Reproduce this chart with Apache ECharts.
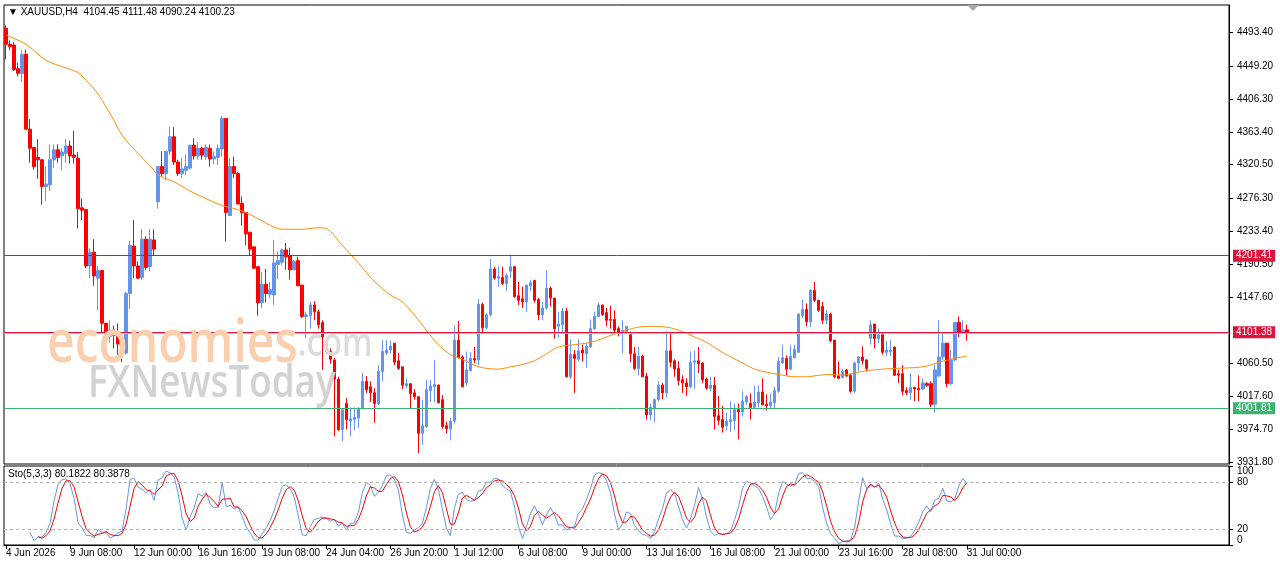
<!DOCTYPE html>
<html>
<head>
<meta charset="utf-8">
<script src="https://cdn.jsdelivr.net/npm/echarts@6/dist/echarts.min.js"></script>
<style>
  html, body { margin: 0; padding: 0; background: #fff; }
  #chart { width: 1280px; height: 567px; }
</style>
</head>
<body>
<div id="chart"></div>
<script>
// ---------- DATA (XAUUSD H4) ----------
const open = [
4499,4478,4477,4446,4440,4465,4367,4343,4330,4327,4292,4294,4327,4340,4332,4335,4345,4333,4329,4264,
4262,4188,4206,4172,4182,4113,4096,4104,4097,4089,4074,4152,4214,4188,4173,4223,4187,4222,4272,4318,
4309,4338,4357,4324,4309,4313,4316,4346,4332,4342,4331,4342,4328,4330,4341,4381,4254,4318,4309,4270,
4258,4232,4213,4187,4140,4164,4151,4150,4190,4193,4209,4201,4183,4195,4163,4122,4123,4137,4128,4114,
4090,4076,4065,4040,3974,4008,3985,3987,3989,4002,4037,4030,4022,4008,4050,4074,4078,4087,4064,4056,
4031,4034,4022,4017,3969,3978,4025,4030,4032,4013,3979,3975,3985,4091,4069,4035,4051,4067,4065,4138,
4107,4124,4184,4172,4173,4165,4181,4187,4149,4145,4141,4162,4169,4144,4124,4133,4159,4146,4109,4111,
4129,4043,4072,4066,4078,4073,4082,4106,4122,4137,4127,4118,4118,4106,4102,4102,4098,4073,4054,4070,
4044,3993,4002,4013,4032,4022,4077,4064,4054,4039,4035,4030,4062,4064,4061,4040,4028,4032,3992,3987,
3979,3984,3986,4000,3997,4010,4008,4003,4009,4023,4007,4005,4009,4024,4061,4067,4053,4068,4075,4123,
4131,4115,4156,4143,4135,4117,4125,4091,4044,4042,4052,4045,4024,4061,4069,4065,4093,4112,4093,4098,
4075,4076,4082,4047,4047,4025,4022,4029,4028,4027,4034,4034,4007,4044,4069,4087,4034,4065,4114,4102,
4104.45];
const high = [
4503,4483,4481,4454,4470,4471,4380,4343,4354,4327,4318,4347,4347,4347,4342,4354,4352,4365,4337,4276,
4262,4211,4223,4188,4182,4113,4117,4110,4113,4090,4154,4221,4248,4194,4236,4227,4236,4236,4318,4338,
4338,4370,4370,4327,4329,4334,4346,4355,4350,4344,4347,4347,4338,4347,4384,4381,4329,4331,4311,4279,
4258,4233,4213,4188,4180,4184,4167,4222,4207,4211,4218,4212,4196,4200,4163,4128,4141,4142,4131,4117,
4095,4080,4068,4043,4002,4015,4003,4003,4003,4048,4044,4037,4028,4058,4091,4091,4090,4087,4074,4056,
4041,4034,4027,4017,4013,4039,4039,4065,4033,4019,3984,3989,4110,4116,4071,4076,4075,4082,4145,4140,
4126,4197,4187,4188,4187,4178,4203,4188,4167,4161,4163,4170,4170,4146,4141,4182,4161,4146,4128,4133,
4133,4092,4078,4092,4085,4087,4118,4128,4140,4137,4133,4136,4130,4109,4117,4109,4102,4082,4082,4072,
4048,4008,4015,4037,4035,4102,4102,4066,4063,4045,4041,4076,4077,4082,4062,4042,4043,4043,4018,4005,
3996,4011,4008,4008,4024,4019,4021,4031,4032,4041,4020,4021,4030,4069,4085,4071,4085,4085,4126,4144,
4139,4158,4167,4144,4141,4130,4127,4091,4063,4053,4053,4047,4063,4070,4083,4066,4117,4112,4106,4100,
4090,4091,4082,4052,4058,4029,4048,4030,4045,4041,4036,4037,4059,4117,4102,4087,4078,4114,4122,4117,
4111.48];
const low = [
4458,4470,4443,4436,4429,4366,4323,4314,4302,4268,4273,4286,4316,4323,4313,4323,4322,4322,4237,4248,
4185,4172,4162,4130,4101,4085,4088,4080,4066,4062,4072,4132,4172,4171,4170,4183,4181,4201,4263,4305,
4300,4333,4320,4306,4303,4307,4314,4327,4327,4327,4327,4318,4321,4320,4331,4220,4254,4303,4269,4241,
4215,4202,4184,4123,4133,4140,4146,4137,4171,4189,4183,4170,4183,4162,4120,4094,4106,4117,4106,4052,
4073,4060,3965,3972,3959,3974,3965,3973,3976,4000,4022,4010,3983,4006,4037,4072,4074,4058,4052,4027,
4028,4002,4013,3943,3954,3976,4010,4010,4008,3975,3969,3960,3982,4067,4029,4031,4050,4061,4058,4101,
4105,4122,4170,4161,4163,4155,4172,4146,4137,4133,4128,4155,4140,4117,4117,4131,4135,4093,4094,4100,
4042,4040,4022,4063,4063,4055,4081,4104,4121,4123,4109,4106,4099,4096,4074,4100,4062,4052,4045,4043,
3987,3986,3984,4011,4014,4016,4056,4043,4032,4022,4018,4028,4027,4048,4035,4026,4024,3974,3980,3970,
3973,3971,3973,3961,3991,4006,3987,4002,4003,4006,3999,4002,4002,4022,4060,4045,4052,4067,4074,4120,
4109,4108,4141,4128,4112,4112,4088,4041,4040,4041,4043,4022,4022,4050,4059,4050,4085,4080,4087,4072,
4070,4070,4044,4035,4019,4019,4013,4011,4011,4026,4030,4003,3996,4043,4065,4029,4032,4063,4095,4100,
4090.24];
const close = [
4478,4475,4445,4440,4465,4367,4342,4318,4327,4292,4295,4327,4340,4330,4337,4345,4332,4330,4263,4261,
4188,4206,4175,4182,4113,4092,4104,4097,4086,4074,4152,4215,4188,4172,4223,4186,4223,4210,4318,4309,
4338,4357,4324,4309,4315,4318,4346,4332,4342,4333,4343,4328,4331,4342,4381,4258,4318,4309,4269,4258,
4230,4210,4185,4140,4164,4152,4157,4192,4195,4209,4200,4183,4194,4162,4122,4124,4137,4128,4111,4095,
4076,4066,4040,3974,4000,3987,3988,3990,4002,4037,4026,4022,4008,4050,4076,4078,4083,4062,4054,4032,
4034,4021,4017,3969,3979,4026,4031,4033,4009,3978,3975,3985,4091,4068,4030,4052,4067,4065,4138,4107,
4124,4184,4172,4174,4165,4176,4187,4148,4143,4141,4163,4166,4143,4124,4133,4159,4146,4106,4112,4129,
4043,4072,4067,4077,4074,4083,4106,4122,4137,4124,4117,4117,4104,4100,4104,4109,4073,4054,4070,4043,
3993,4003,4013,4032,4022,4077,4062,4053,4038,4035,4030,4062,4064,4060,4039,4028,4032,3991,3986,3977,
3985,3987,4000,3997,4011,4017,4003,4010,4023,4006,4005,4010,4025,4063,4068,4053,4070,4079,4125,4131,
4115,4156,4143,4130,4117,4125,4090,4043,4041,4050,4044,4024,4061,4069,4064,4054,4111,4093,4098,4075,
4078,4078,4045,4045,4024,4022,4029,4027,4026,4035,4032,4007,4052,4069,4087,4034,4065,4114,4100,4104,
4100.23];

// moving average (orange) as read at sampled bars
const maBars = [0,5,10,15,18,20,23,25,27,29,33,36,38,42,46,50,53,54,59,64,
  66,69,74,78,80,84,88,92,96,99,102,105,108,111,114,117,120,123,126,129,
  132,135,138,142,146,149,152,155,158,162,166,169,172,175,178,181,184,187,190,193,
  197,200,203,206,209,212,215,219,222,227,230,233,237,240];
const maValues = [4490,4478,4457,4447,4441,4431,4413,4396,4378,4359,4335,4319,4307,4298,4286,4276,4269,4267,4260,4247,
  4241,4236,4236,4238,4237,4215,4192,4168,4150,4141,4124,4104,4085,4072,4066,4058,4054,4053,4056,4059,
  4064,4073,4082,4085,4088,4093,4099,4104,4108,4109,4107,4102,4095,4088,4078,4069,4061,4053,4049,4046,
  4043,4043,4045,4046,4045,4048,4051,4053,4054,4055,4057,4062,4067,4070];

// horizontal levels
const levelLines = [
  { value: 4201.41, color: '#DC143C', tag: true },
  { value: 4101.38, color: '#DC143C', tag: true },
  { value: 4100.23, color: '#C0C0C0', tag: false },
  { value: 4001.81, color: '#3CB371', tag: true }
];

// tick labels
const priceTicks = [4493.40,4449.20,4406.30,4363.40,4320.50,4276.30,4233.40,4190.50,4147.60,4060.50,4017.60,3974.70,3931.80];
const stochLevels = [80, 20];
const stochTop = [100];
const stochBottom = [0];
const xTickLabels = ['4 Jun 2026','9 Jun 08:00','12 Jun 00:00','16 Jun 16:00','19 Jun 08:00','24 Jun 04:00',
  '26 Jun 20:00','1 Jul 12:00','6 Jul 08:00','9 Jul 00:00','13 Jul 16:00','16 Jul 08:00','21 Jul 00:00',
  '23 Jul 16:00','28 Jul 08:00','31 Jul 00:00'];
const symbolText = 'XAUUSD,H4';
const stochText = 'Sto(5,3,3) 80.1822 80.3878';

// ---------- BUILD ----------
const SLOTS = 306;          // bar slots across the plot (incl. right-side chart shift)
const TICK_EVERY = 16;
const categories = Array.from({ length: SLOTS }, (_, i) => String(i));
const candleData = open.map((o, i) => [o, close[i], low[i], high[i]]);

const maSeries = new Array(open.length).fill(null);
maBars.forEach((b, k) => { maSeries[b] = maValues[k]; });

// Stochastic (5,3,3) derived from the candles
function stochastic(kP, slow, dP) {
  const n = close.length, main = new Array(n).fill(null), sig = new Array(n).fill(null);
  const num = [], den = [];
  for (let i = 0; i < n; i++) {
    if (i < kP - 1) { num.push(null); den.push(null); continue; }
    let hh = -Infinity, ll = Infinity;
    for (let j = i - kP + 1; j <= i; j++) { hh = Math.max(hh, high[j]); ll = Math.min(ll, low[j]); }
    num.push(close[i] - ll); den.push(hh - ll);
  }
  for (let i = kP - 1 + slow - 1; i < n; i++) {
    let a = 0, b = 0;
    for (let j = i - slow + 1; j <= i; j++) { a += num[j]; b += den[j]; }
    main[i] = b === 0 ? 100 : a / b * 100;
  }
  for (let i = kP - 1 + slow - 1 + dP - 1; i < n; i++) {
    let s = 0; for (let j = i - dP + 1; j <= i; j++) s += main[j];
    sig[i] = s / dP;
  }
  return { main, sig };
}
const sto = stochastic(5, 3, 3);

const last = open.length - 1;
const headerText = '\u25BC ' + symbolText + '  ' + [open[last], high[last], low[last], close[last]].map(v => v.toFixed(2)).join(' ');

const FONT = 'Liberation Sans, Arial, sans-serif';
const WM_FONT = '"Open Sans", sans-serif';
const chart = echarts.init(document.getElementById('chart'), null, { renderer: 'canvas' });

function stochAxis(values, vAlign, showLine) {
  return { type: 'value', gridIndex: 1, position: 'right', min: 0, max: 100,
    splitLine: { show: false },
    axisLine: { show: showLine, lineStyle: { color: '#000' } },
    axisTick: { show: true, length: 4, customValues: values, lineStyle: { color: '#000' } },
    axisLabel: { customValues: values, showMinLabel: true, showMaxLabel: true,
      formatter: (v) => String(v), verticalAlign: vAlign,
      fontSize: 10, fontFamily: FONT, color: '#000', margin: 8 } };
}

chart.setOption({
  animation: false,
  backgroundColor: '#ffffff',
  grid: [
    { left: 4, right: 51, top: 5, height: 459, show: true, borderColor: '#000', borderWidth: 1, backgroundColor: '#fff' },
    { left: 4, right: 51, top: 466, height: 79, show: true, borderColor: '#000', borderWidth: 1, backgroundColor: '#fff' }
  ],
  xAxis: [
    { type: 'category', gridIndex: 0, data: categories, boundaryGap: true,
      axisLine: { show: false }, axisTick: { show: false }, axisLabel: { show: false }, splitLine: { show: false } },
    { type: 'category', gridIndex: 1, data: categories, boundaryGap: true,
      axisLine: { show: true, lineStyle: { color: '#000', width: 1 } },
      axisTick: { show: true, alignWithLabel: true, length: 4, lineStyle: { color: '#000' },
        interval: (i) => i % TICK_EVERY === 0 && (i / TICK_EVERY) < xTickLabels.length },
      axisLabel: { interval: (i) => i % TICK_EVERY === 0 && (i / TICK_EVERY) < xTickLabels.length,
        formatter: (v, i) => (i % TICK_EVERY === 0 ? (xTickLabels[i / TICK_EVERY] || '') : ''),
        align: 'left', fontSize: 10, fontFamily: FONT, color: '#000', margin: 3 },
      splitLine: { show: false } }
  ],
  yAxis: [
    { type: 'value', gridIndex: 0, position: 'right', min: 3928.9, max: 4529.4, scale: true,
      splitLine: { show: false },
      axisLine: { show: true, lineStyle: { color: '#000' } },
      axisTick: { show: true, length: 4, customValues: priceTicks, lineStyle: { color: '#000' } },
      axisLabel: { customValues: priceTicks, formatter: (v) => Number(v).toFixed(2),
        fontSize: 10, fontFamily: FONT, color: '#000', margin: 8 } },
    stochAxis(stochLevels, 'middle', true),
    stochAxis(stochTop, 'top', false),
    stochAxis(stochBottom, 'bottom', false)
  ],
  series: [
    { type: 'candlestick', name: 'XAUUSD', xAxisIndex: 0, yAxisIndex: 0, data: candleData, barWidth: 3,
      itemStyle: { color: '#6495ED', color0: '#FF0000', borderColor: '#6495ED', borderColor0: '#FF0000', borderWidth: 1 },
      markLine: {
        silent: true, symbol: ['none', 'none'], animation: false,
        data: levelLines.map(l => ({
          yAxis: l.value,
          lineStyle: { color: l.color, width: 1, type: 'solid' },
          label: l.tag ? { show: true, position: 'end', formatter: l.value.toFixed(2), distance: 4,
            backgroundColor: l.color, color: '#fff', fontSize: 10, fontFamily: FONT, padding: [1, 3, 1, 3] }
            : { show: false }
        }))
      } },
    { type: 'line', name: 'MA', xAxisIndex: 0, yAxisIndex: 0, data: maSeries, connectNulls: true,
      showSymbol: false, smooth: 0.3, lineStyle: { color: '#FF8C00', width: 1 }, z: 3 },
    { type: 'line', name: 'Sto main', xAxisIndex: 1, yAxisIndex: 1, data: sto.main, showSymbol: false,
      lineStyle: { color: '#6495ED', width: 1 },
      markLine: { silent: true, symbol: ['none', 'none'], label: { show: false },
        lineStyle: { color: '#B0B0B0', type: [3, 3], width: 1 },
        data: stochLevels.map(v => ({ yAxis: v })) } },
    { type: 'line', name: 'Sto signal', xAxisIndex: 1, yAxisIndex: 1, data: sto.sig, showSymbol: false,
      lineStyle: { color: '#FF0000', width: 1 } }
  ],
  graphic: [
    { type: 'text', x: 8, y: 12, z: 200, style: { text: headerText, fontSize: 10, fontFamily: FONT, fill: '#000', verticalAlign: 'middle' } },
    { type: 'text', x: 8, y: 474, z: 200, style: { text: stochText, fontSize: 10, fontFamily: FONT, fill: '#000', verticalAlign: 'middle' } },
    { type: 'polygon', z: 200, shape: { points: [[967, 5], [979, 5], [973, 11]] }, style: { fill: '#A8A8A8' } },
    { type: 'text', x: 47, y: 345, z: 150, scaleX: 0.8, style: {
        text: '{a|economies}{c|.com}', verticalAlign: 'middle',
        rich: { a: { fontSize: 60, fontFamily: WM_FONT, fontWeight: 600, fill: '#F9CFB0', color: '#F9CFB0' },
                c: { fontSize: 40, fontFamily: WM_FONT, fontWeight: 600, fill: '#DCDCDC', color: '#DCDCDC' } } } },
    { type: 'text', x: 88, y: 384, z: 150, scaleX: 0.8, style: {
        text: 'FXNewsToday', fontSize: 46, fontFamily: WM_FONT, fontWeight: 600, fill: '#D2D2D2', verticalAlign: 'middle' } }
  ]
});
</script>
</body>
</html>
